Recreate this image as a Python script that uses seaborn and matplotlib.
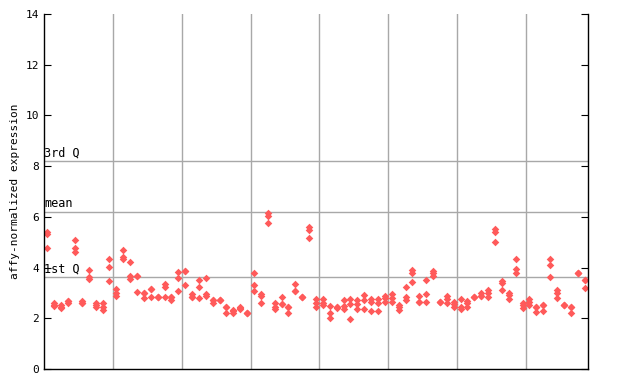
import matplotlib
matplotlib.use("Agg")
import matplotlib.pyplot as plt
import seaborn as sns
import numpy as np
import pandas as pd

# replicate values per sample (79 samples, 3 replicates each)
rep_a = [5.42, 2.59, 2.52, 2.69, 5.09, 2.69, 3.90, 2.62, 2.62, 4.33,
         3.14, 4.69, 4.22, 3.67, 2.98, 3.14, 2.83, 3.34, 2.83, 3.84,
         3.88, 2.94, 3.51, 3.58, 2.72, 2.72, 2.46, 2.33, 2.46, 2.22,
         3.77, 2.96, 6.17, 2.59, 2.83, 2.46, 3.34, 2.83, 5.59, 2.75,
         2.75, 2.48, 2.46, 2.72, 2.75, 2.72, 2.92, 2.75, 2.75, 2.88,
         2.96, 2.52, 3.25, 3.90, 2.88, 3.51, 3.88, 2.65, 2.88, 2.65,
         2.75, 2.69, 2.83, 2.98, 3.12, 5.51, 3.48, 3.01, 4.33, 2.62,
         2.75, 2.43, 2.52, 4.33, 3.12, 2.52, 2.46, 3.77, 3.51]
rep_b = [5.32, 2.52, 2.45, 2.69, 4.76, 2.59, 3.62, 2.52, 2.46, 4.03,
         3.01, 4.43, 3.67, 3.67, 2.98, 3.14, 2.83, 3.22, 2.83, 3.58,
         3.88, 2.83, 3.22, 2.94, 2.72, 2.72, 2.46, 2.27, 2.40, 2.22,
         3.31, 2.88, 6.03, 2.46, 2.56, 2.46, 3.09, 2.83, 5.48, 2.59,
         2.59, 2.22, 2.46, 2.48, 2.56, 2.56, 2.72, 2.66, 2.59, 2.79,
         2.80, 2.43, 2.85, 3.80, 2.65, 2.96, 3.77, 2.65, 2.75, 2.55,
         2.43, 2.59, 2.83, 2.88, 2.98, 5.42, 3.38, 2.92, 3.93, 2.52,
         2.65, 2.43, 2.52, 4.09, 2.98, 2.52, 2.46, 3.77, 3.51]
rep_c = [4.76, 2.48, 2.39, 2.59, 4.63, 2.59, 3.54, 2.43, 2.33, 3.46,
         2.88, 4.33, 3.54, 3.02, 2.79, 2.85, 2.83, 2.85, 2.72, 3.08,
         3.30, 2.83, 2.79, 2.88, 2.59, 2.72, 2.19, 2.22, 2.35, 2.22,
         3.08, 2.59, 5.74, 2.35, 2.56, 2.22, 3.09, 2.83, 5.15, 2.46,
         2.52, 2.00, 2.40, 2.35, 1.96, 2.37, 2.35, 2.30, 2.30, 2.66,
         2.65, 2.33, 2.72, 3.42, 2.65, 2.63, 3.67, 2.65, 2.62, 2.46,
         2.35, 2.46, 2.83, 2.88, 2.85, 5.00, 3.12, 2.75, 3.80, 2.39,
         2.52, 2.26, 2.30, 3.62, 2.79, 2.52, 2.19, 3.77, 3.18]

# summary lines
q_labels = ["3rd Q", "mean", "1st Q"]
q_values = [8.22, 6.21, 3.63]
y_ticks = [0, 2, 4, 6, 8, 10, 12, 14]
group_size = 10

n = len(rep_a)
df = pd.DataFrame({
    "sample": np.tile(np.arange(n), 3),
    "value": rep_a + rep_b + rep_c,
})

fig = plt.figure(figsize=(6.4, 3.84), dpi=100)
ax = fig.add_axes([44 / 640, 15 / 384, 544 / 640, 355 / 384])

mono = "DejaVu Sans Mono"

# grid: vertical separators and quartile lines
for b in np.arange(group_size - 0.5, n - 1, group_size):
    ax.axvline(b, color="#a8a8a8", lw=1, zorder=1)
for lab, v in zip(q_labels, q_values):
    ax.axhline(v, color="#a8a8a8", lw=1, zorder=1)
    ax.text(-0.5, v + 0.05, lab, family=mono, fontsize=8.5,
            ha="left", va="bottom", zorder=3)

sns.scatterplot(data=df, x="sample", y="value", ax=ax, marker="D",
                s=15, color="#ff5a5a", linewidth=0, legend=False, zorder=2)

ax.set_xlim(-0.5, n - 0.5)
ax.set_ylim(0, 14)
ax.set_yticks(y_ticks)
ax.set_yticklabels([str(t) for t in y_ticks], family=mono, fontsize=8)
ax.set_xticks([])
ax.set_xlabel("")
ax.set_ylabel("affy-normalized expression", family=mono, fontsize=8)
ax.tick_params(axis="y", direction="in", length=5, right=True, labelright=False)
ax.spines["top"].set_visible(False)
for s in ["left", "right", "bottom"]:
    ax.spines[s].set_color("black")
    ax.spines[s].set_linewidth(1)

fig.savefig("out.png", dpi=100)
